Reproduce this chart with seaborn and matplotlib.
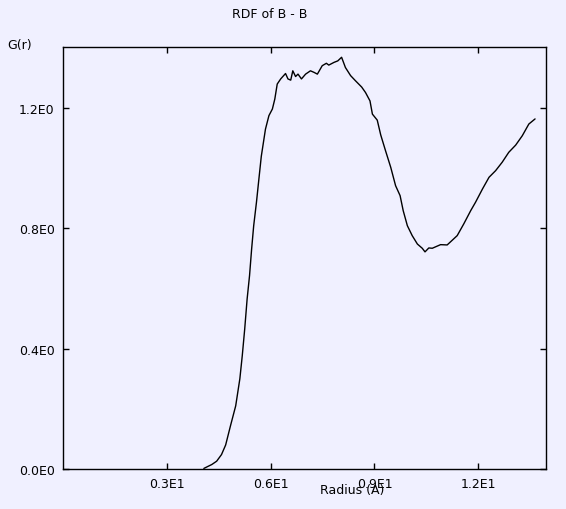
import matplotlib
matplotlib.use('Agg')
import matplotlib.pyplot as plt
import seaborn as sns
import numpy as np
import pandas as pd

# radius (A) and g(r)
radius = [4.07, 4.30, 4.44, 4.58, 4.70, 4.84, 4.99, 5.11, 5.18, 5.25, 5.32, 5.39,
          5.45, 5.51, 5.59, 5.66, 5.73, 5.85, 5.95, 6.05, 6.12, 6.19, 6.29, 6.43,
          6.50, 6.58, 6.64, 6.72, 6.79, 6.89, 7.01, 7.15, 7.25, 7.35, 7.49, 7.61,
          7.68, 7.83, 7.94, 8.05, 8.16, 8.31, 8.45, 8.63, 8.74, 8.87, 8.94, 9.08,
          9.18, 9.32, 9.47, 9.61, 9.74, 9.83, 9.95, 10.09, 10.24, 10.38, 10.46,
          10.57, 10.67, 10.91, 11.10, 11.25, 11.39, 11.58, 11.78, 11.92, 12.12,
          12.31, 12.50, 12.69, 12.88, 13.08, 13.27, 13.46, 13.64]
gr = [0.002, 0.015, 0.026, 0.048, 0.080, 0.144, 0.210, 0.300, 0.377, 0.465, 0.565,
      0.643, 0.731, 0.809, 0.887, 0.964, 1.040, 1.130, 1.175, 1.197, 1.230, 1.280,
      1.297, 1.315, 1.297, 1.293, 1.324, 1.305, 1.313, 1.297, 1.313, 1.324, 1.319,
      1.313, 1.341, 1.349, 1.343, 1.352, 1.357, 1.369, 1.335, 1.308, 1.291, 1.270,
      1.252, 1.224, 1.180, 1.160, 1.111, 1.058, 1.003, 0.942, 0.909, 0.859, 0.809,
      0.776, 0.748, 0.734, 0.722, 0.735, 0.734, 0.746, 0.745, 0.761, 0.776, 0.815,
      0.859, 0.887, 0.931, 0.970, 0.992, 1.020, 1.053, 1.077, 1.108, 1.147, 1.164]

xticks = [3, 6, 9, 12]
xticklabels = ["0.3E1", "0.6E1", "0.9E1", "1.2E1"]
yticks = [0.0, 0.4, 0.8, 1.2]
yticklabels = ["0.0E0", "0.4E0", "0.8E0", "1.2E0"]

bg = "#F0F0FF"

sns.set_style("ticks")
plt.rcParams['font.family'] = ['DejaVu Sans']
plt.rcParams['text.color'] = 'black'

fig = plt.figure(figsize=(5.66, 5.10), dpi=100, facecolor=bg)
ax = fig.add_axes([0.1113, 0.0784, 0.853, 0.8268])
ax.set_facecolor(bg)

df = pd.DataFrame({"r": radius, "g": gr})
sns.lineplot(data=df, x="r", y="g", ax=ax, color="black", linewidth=1.0)

ax.set_xlim(0, 13.95)
ax.set_ylim(0, 1.402)
ax.set_xticks(xticks)
ax.set_xticklabels(xticklabels)
ax.set_yticks(yticks)
ax.set_yticklabels(yticklabels)
ax.tick_params(direction="in", length=4, width=1, top=True, right=True,
               labelsize=9, colors="black", pad=6)
for s in ax.spines.values():
    s.set_visible(True)
    s.set_linewidth(1.0)
    s.set_color("black")
ax.set_xlabel("")
ax.set_ylabel("")

fig.text(270 / 566, 1 - 15 / 510, "RDF of B - B", ha="center", va="center",
         fontsize=9, color="black")
fig.text(20 / 566, 1 - 45 / 510, "G(r)", ha="center", va="center",
         fontsize=9, color="black")
fig.text(352 / 566, 1 - 491 / 510, "Radius (A)", ha="center", va="center",
         fontsize=9, color="black")

fig.savefig("out.png", dpi=100, facecolor=bg)
